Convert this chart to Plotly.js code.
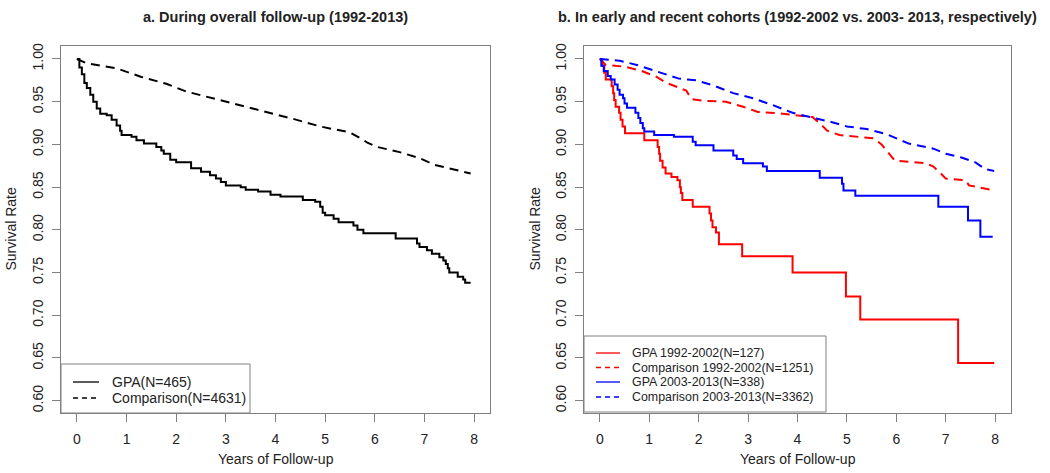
<!DOCTYPE html>
<html>
<head>
<meta charset="utf-8">
<script src="https://cdn.plot.ly/plotly-3.0.1.min.js"></script>
<style>html,body{margin:0;padding:0;background:#fff;}#chart{width:1050px;height:473px;}</style>
</head>
<body>
<div id="chart"></div>
<script>
// ---- Data ----
const panelTitles = ["a. During overall follow-up (1992-2013)", "b. In early and recent cohorts (1992-2002 vs. 2003- 2013, respectively)"];
const xTitle = "Years of Follow-up";
const yTitle = "Survival Rate";
const xTicks = [0,1,2,3,4,5,6,7,8];
const yTicks = [0.60,0.65,0.70,0.75,0.80,0.85,0.90,0.95,1.00];

const namesA = ["GPA(N=465)", "Comparison(N=4631)"];
const namesB = ["GPA 1992-2002(N=127)", "Comparison 1992-2002(N=1251)", "GPA 2003-2013(N=338)", "Comparison 2003-2013(N=3362)"];

// Panel a: GPA overall (step function)
const tGpaAll = [0,0.05,0.1,0.15,0.2,0.27,0.33,0.4,0.47,0.6,0.7,0.8,0.87,0.9,1.1,1.2,1.35,1.6,1.7,1.75,1.88,2.0,2.3,2.5,2.68,2.8,2.9,3.0,3.3,3.4,3.65,3.9,4.1,4.55,4.8,4.9,4.95,5.0,5.17,5.27,5.57,5.65,5.77,6.42,6.85,6.9,7.05,7.15,7.3,7.38,7.43,7.47,7.5,7.67,7.78,7.82,7.93];
const sGpaAll = [1.0,0.99,0.982,0.972,0.966,0.958,0.95,0.942,0.936,0.934,0.929,0.922,0.916,0.911,0.909,0.905,0.901,0.897,0.893,0.889,0.882,0.879,0.872,0.868,0.864,0.86,0.856,0.852,0.85,0.847,0.845,0.841,0.839,0.835,0.833,0.827,0.82,0.817,0.813,0.809,0.805,0.8,0.796,0.79,0.784,0.78,0.776,0.772,0.768,0.764,0.76,0.755,0.75,0.745,0.742,0.738,0.738];
// Panel a: comparison overall
const tCmpAll = [0,0.2,0.8,1.3,1.8,2.2,2.6,3.15,3.7,4.35,4.9,5.5,5.75,5.85,6.05,6.5,6.9,7.2,7.5,7.93];
const sCmpAll = [1.0,0.995,0.989,0.979,0.971,0.962,0.956,0.948,0.94,0.93,0.921,0.914,0.906,0.902,0.897,0.891,0.884,0.876,0.872,0.866];

// Panel b: GPA 1992-2002
const tGpaEarly = [0,0.05,0.09,0.12,0.24,0.27,0.29,0.32,0.39,0.42,0.46,0.51,0.9,1.17,1.2,1.22,1.27,1.33,1.45,1.57,1.62,1.64,1.67,1.88,2.22,2.25,2.28,2.35,2.41,2.88,3.9,4.98,5.27,7.25,7.98];
const sGpaEarly = [1.0,0.992,0.984,0.976,0.968,0.96,0.952,0.944,0.937,0.929,0.921,0.913,0.905,0.897,0.889,0.881,0.873,0.866,0.862,0.858,0.85,0.843,0.835,0.827,0.819,0.811,0.803,0.797,0.783,0.769,0.75,0.722,0.695,0.644,0.644];
// Panel b: Comparison 1992-2002
const tCmpEarly = [0,0.12,0.5,0.85,1.15,1.35,1.75,1.85,2.1,2.55,2.9,3.2,3.7,4.3,4.45,4.6,4.85,5.55,5.7,5.85,5.97,6.6,6.75,6.9,7.0,7.4,7.47,7.65,7.98];
const sCmpEarly = [1.0,0.993,0.991,0.986,0.979,0.972,0.963,0.953,0.951,0.95,0.944,0.938,0.936,0.932,0.925,0.916,0.911,0.907,0.9,0.89,0.881,0.878,0.874,0.866,0.86,0.858,0.852,0.85,0.846];
// Panel b: GPA 2003-2013
const tGpaRecent = [0,0.03,0.08,0.16,0.22,0.3,0.36,0.4,0.47,0.5,0.55,0.72,0.78,0.82,0.87,0.9,1.1,1.5,1.88,1.94,2.3,2.7,2.77,2.9,3.3,3.38,4.45,4.9,4.93,5.17,6.85,7.45,7.7,7.95];
const sGpaRecent = [1.0,0.992,0.986,0.98,0.976,0.97,0.964,0.958,0.954,0.948,0.943,0.937,0.931,0.925,0.919,0.915,0.911,0.909,0.903,0.899,0.893,0.887,0.883,0.878,0.874,0.869,0.861,0.854,0.846,0.84,0.827,0.811,0.792,0.792];
// Panel b: Comparison 2003-2013
const tCmpRecent = [0,0.4,0.75,1.2,1.6,1.95,2.3,2.7,3.1,3.5,3.9,4.4,4.7,5.0,5.4,5.8,6.25,6.75,7.0,7.3,7.6,7.8,7.98];
const sCmpRecent = [1.0,0.998,0.993,0.985,0.977,0.975,0.969,0.96,0.954,0.946,0.937,0.93,0.926,0.921,0.918,0.912,0.901,0.895,0.889,0.885,0.879,0.871,0.869];

// ---- Styling ----
const W = 1050, H = 473;
const px = x => x / W;
const py = y => 1 - y / H;
const TXT = '#222';
const FRAME = '#808080';
const FONT = 'Liberation Sans, Arial, sans-serif';
const DASH = '9px,6px';

const traces = [
  {x: tGpaAll, y: sGpaAll, xaxis: 'x', yaxis: 'y', mode: 'lines', line: {color: '#000', width: 2, shape: 'hv'}, name: namesA[0]},
  {x: tCmpAll, y: sCmpAll, xaxis: 'x', yaxis: 'y', mode: 'lines', line: {color: '#000', width: 2, dash: DASH}, name: namesA[1]},
  {x: tGpaEarly, y: sGpaEarly, xaxis: 'x2', yaxis: 'y2', mode: 'lines', line: {color: '#ff0000', width: 2, shape: 'hv'}, name: namesB[0]},
  {x: tCmpEarly, y: sCmpEarly, xaxis: 'x2', yaxis: 'y2', mode: 'lines', line: {color: '#ff0000', width: 2, dash: DASH}, name: namesB[1]},
  {x: tGpaRecent, y: sGpaRecent, xaxis: 'x2', yaxis: 'y2', mode: 'lines', line: {color: '#0000ff', width: 2, shape: 'hv'}, name: namesB[2]},
  {x: tCmpRecent, y: sCmpRecent, xaxis: 'x2', yaxis: 'y2', mode: 'lines', line: {color: '#0000ff', width: 2, dash: DASH}, name: namesB[3]}
];

function xa(domain) {
  return {domain: domain, range: [-0.32, 8.32], tickvals: xTicks, ticktext: xTicks.map(String),
    showline: true, mirror: true, linecolor: FRAME, linewidth: 1, ticks: 'outside', ticklen: 8,
    tickcolor: FRAME, showgrid: false, zeroline: false, ticklabelstandoff: 5,
    tickfont: {family: FONT, size: 14, color: TXT}};
}
function ya(domain, anchor) {
  return {domain: domain, anchor: anchor, range: [0.5856, 1.0152], tickvals: yTicks, ticktext: yTicks.map(v => v.toFixed(2)),
    showline: true, mirror: true, linecolor: FRAME, linewidth: 1, ticks: 'outside', ticklen: 8,
    tickcolor: FRAME, showgrid: false, zeroline: false, tickangle: -90, ticklabelstandoff: 3,
    tickfont: {family: FONT, size: 14, color: TXT}};
}

const yDom = [py(413), py(46)];
const layout = {
  width: W, height: H, margin: {l: 0, r: 0, t: 0, b: 0},
  paper_bgcolor: '#fff', plot_bgcolor: '#fff', showlegend: false,
  xaxis: Object.assign(xa([px(61), px(490)]), {anchor: 'y'}),
  yaxis: ya(yDom, 'x'),
  xaxis2: Object.assign(xa([px(584), px(1011)]), {anchor: 'y2'}),
  yaxis2: ya(yDom, 'x2'),
  shapes: [], annotations: []
};

// Titles
layout.annotations.push({text: '<b>' + panelTitles[0] + '</b>', x: px(275.5), y: py(17), xref: 'paper', yref: 'paper', showarrow: false, xanchor: 'center', yanchor: 'middle', font: {family: FONT, size: 14.5, color: TXT}});
layout.annotations.push({text: '<b>' + panelTitles[1] + '</b>', x: px(797.5), y: py(17), xref: 'paper', yref: 'paper', showarrow: false, xanchor: 'center', yanchor: 'middle', font: {family: FONT, size: 14.5, color: TXT}});
[275.5, 797.5].forEach(cx => layout.annotations.push({text: xTitle, x: px(cx), y: py(459), xref: 'paper', yref: 'paper', showarrow: false, xanchor: 'center', yanchor: 'middle', font: {family: FONT, size: 14, color: TXT}}));
[10, 534].forEach(cx => layout.annotations.push({text: yTitle, x: px(cx), y: py(229.5), xref: 'paper', yref: 'paper', showarrow: false, textangle: -90, xanchor: 'center', yanchor: 'middle', font: {family: FONT, size: 14, color: TXT}}));

// Legends (drawn from trace styles and names)
function legend(x0, x1, y0, y1, items, rowY, lx0, lx1, tx, fs) {
  layout.shapes.push({type: 'rect', xref: 'paper', yref: 'paper', x0: px(x0), x1: px(x1), y0: py(y1), y1: py(y0), line: {color: FRAME, width: 1}, fillcolor: '#fff', layer: 'above'});
  items.forEach((tr, i) => {
    layout.shapes.push({type: 'line', xref: 'paper', yref: 'paper', x0: px(lx0), x1: px(lx1), y0: py(rowY[i]), y1: py(rowY[i]), line: {color: tr.line.color, width: 1.3, dash: tr.line.dash ? '5px,4px' : 'solid'}, layer: 'above'});
    layout.annotations.push({text: tr.name, x: px(tx), y: py(rowY[i]), xref: 'paper', yref: 'paper', showarrow: false, xanchor: 'left', yanchor: 'middle', font: {family: FONT, size: fs, color: TXT}});
  });
}
legend(61, 250, 364, 413, traces.slice(0, 2), [382, 398], 73, 99, 110, 14);
legend(584, 826, 336, 412, traces.slice(2), [353, 367.5, 382, 397], 596, 620, 630, 12.4);

Plotly.newPlot('chart', traces, layout, {displayModeBar: false, staticPlot: true});
</script>
</body>
</html>
